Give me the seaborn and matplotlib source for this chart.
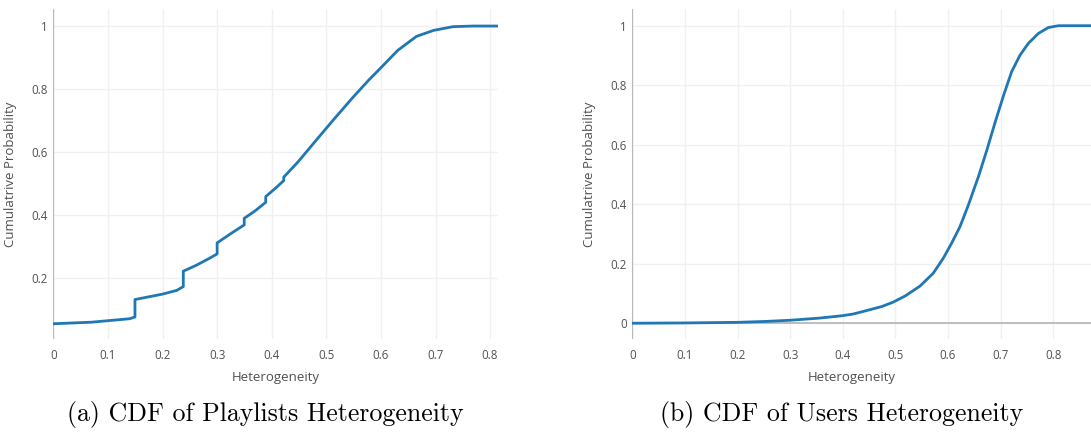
import matplotlib
matplotlib.use("Agg")
import matplotlib.pyplot as plt
from matplotlib.ticker import FuncFormatter, FixedLocator
import seaborn as sns
import pandas as pd

# Playlists heterogeneity CDF (vertical steps repeat the x value)
playlist_het = [0.0, 0.07, 0.140, 0.1495, 0.1495, 0.1995, 0.226, 0.238, 0.238,
                0.262, 0.287, 0.300, 0.300, 0.329, 0.3496, 0.3496, 0.369, 0.389,
                0.389, 0.409, 0.422, 0.422, 0.448, 0.476, 0.512, 0.549, 0.577,
                0.598, 0.631, 0.665, 0.696, 0.732, 0.769, 0.8145]
playlist_cdf = [0.054, 0.059, 0.070, 0.0755, 0.131, 0.148, 0.160, 0.172, 0.221,
                0.240, 0.263, 0.276, 0.311, 0.345, 0.368, 0.389, 0.412, 0.440,
                0.458, 0.488, 0.509, 0.520, 0.568, 0.626, 0.700, 0.774, 0.827,
                0.864, 0.923, 0.967, 0.986, 0.998, 1.0, 1.0]

# Users heterogeneity CDF
user_het = [0.0, 0.1, 0.2, 0.252, 0.3, 0.354, 0.398, 0.420, 0.442, 0.474, 0.496,
            0.519, 0.547, 0.572, 0.591, 0.607, 0.623, 0.639, 0.658, 0.674, 0.690,
            0.706, 0.721, 0.737, 0.753, 0.772, 0.791, 0.810, 0.828, 0.872]
user_cdf = [0.0, 0.001, 0.003, 0.006, 0.010, 0.017, 0.025, 0.031, 0.041, 0.056,
            0.071, 0.092, 0.125, 0.168, 0.218, 0.269, 0.325, 0.398, 0.493, 0.582,
            0.677, 0.767, 0.845, 0.901, 0.941, 0.974, 0.994, 1.0, 1.0, 1.0]

x_ticks = [0, 0.1, 0.2, 0.3, 0.4, 0.5, 0.6, 0.7, 0.8]
captions = ["(a) CDF of Playlists Heterogeneity", "(b) CDF of Users Heterogeneity"]

sns.set_theme(style="white")
plt.rcParams["font.family"] = ["Open Sans", "DejaVu Sans"]

LINE = "#1f77b4"
TXT = "#505050"
GRID = "#f0f0f0"
ZERO = "#b8b8b8"

fig = plt.figure(figsize=(10.91, 4.33), dpi=100)
ax_a = fig.add_axes([0.0489, 0.2164, 0.4076, 0.762])
ax_b = fig.add_axes([0.5796, 0.2164, 0.4204, 0.762])

fmt = FuncFormatter(lambda v, p: f"{v:g}")


def style(ax, xlim, ylim, yticks, zero_y, xlabel_pos, ylabel_pos):
    ax.set_xlim(*xlim)
    ax.set_ylim(*ylim)
    ax.xaxis.set_major_locator(FixedLocator(x_ticks))
    ax.yaxis.set_major_locator(FixedLocator(yticks))
    ax.xaxis.set_major_formatter(fmt)
    ax.yaxis.set_major_formatter(fmt)
    ax.grid(True, color=GRID, linewidth=1.0)
    ax.set_axisbelow(True)
    for s in ax.spines.values():
        s.set_visible(False)
    ax.tick_params(length=0, labelsize=8.3, colors=TXT)
    ax.tick_params(axis="x", pad=7)
    ax.tick_params(axis="y", pad=4)
    ax.axvline(0, color=ZERO, linewidth=1.6, zorder=1.5)
    if zero_y:
        ax.axhline(0, color=ZERO, linewidth=1.3, zorder=1.5)
    ax.set_xlabel("Heterogeneity", fontsize=9.5, color=TXT)
    ax.set_ylabel("Cumulatrive Probability", fontsize=9.5, color=TXT)
    ax.xaxis.set_label_coords(xlabel_pos, -0.095)
    ax.yaxis.set_label_coords(ylabel_pos, 0.5)


df_a = pd.DataFrame({"h": playlist_het, "p": playlist_cdf})
sns.lineplot(data=df_a, x="h", y="p", ax=ax_a, estimator=None, sort=False,
             color=LINE, linewidth=2.0, zorder=3)
style(ax_a, (0, 0.8145), (0.0046, 1.053), [0.2, 0.4, 0.6, 0.8, 1.0], False,
      0.5, -0.0816)

df_b = pd.DataFrame({"h": user_het, "p": user_cdf})
sns.lineplot(data=df_b, x="h", y="p", ax=ax_b, estimator=None, sort=False,
             color=LINE, linewidth=2.0, zorder=3)
style(ax_b, (0, 0.872), (-0.054, 1.055), [0, 0.2, 0.4, 0.6, 0.8, 1.0], True,
      0.479, -0.079)

fig.text(265 / 1091, 1 - 415 / 433, captions[0], family="cmr10", fontsize=18.6,
         ha="center", va="center", color="black")
fig.text(841.5 / 1091, 1 - 415 / 433, captions[1], family="cmr10", fontsize=18.6,
         ha="center", va="center", color="black")

fig.savefig("out.png", dpi=100)
